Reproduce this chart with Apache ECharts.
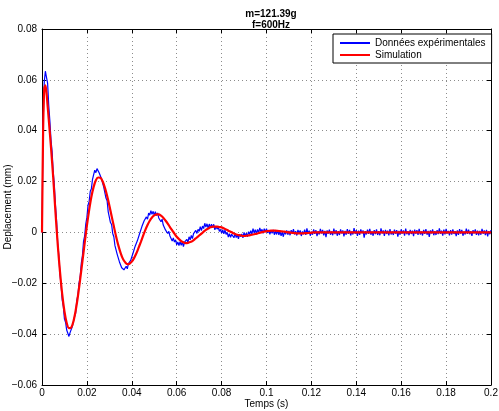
<!DOCTYPE html>
<html>
<head>
<meta charset="utf-8">
<script src="https://cdn.jsdelivr.net/npm/echarts@6/dist/echarts.min.js"></script>
<style>
  html, body { margin: 0; padding: 0; background: #fff; }
  #chart { width: 499px; height: 411px; }
</style>
</head>
<body>
<div id="chart"></div>
<script>
// measured displacement (mm), one sample every expStep seconds
const expStep = 0.0005
const expDisp = [
  0, 0.0426, 0.0592, 0.0634, 0.0610, 0.0587, 0.0500, 0.0439, 0.0364, 0.0318,
  0.0238, 0.0185, 0.0106, 0.0046, -0.0043, -0.0090, -0.0164, -0.0207, -0.0265, -0.0291,
  -0.0341, -0.0353, -0.0384, -0.0384, -0.0409, -0.0394, -0.0399, -0.0370, -0.0364, -0.0331,
  -0.0317, -0.0268, -0.0246, -0.0199, -0.0175, -0.0122, -0.0092, -0.0035, -0.0014, 0.0033,
  0.0059, 0.0107, 0.0122, 0.0162, 0.0172, 0.0209, 0.0216, 0.0245, 0.0235, 0.0251,
  0.0257, 0.0234, 0.0239, 0.0211, 0.0208, 0.0178, 0.0173, 0.0135, 0.0125, 0.0081,
  0.0075, 0.0039, 0.0031, -0.0004, -0.0017, -0.0052, -0.0055, -0.0086, -0.0091, -0.0116,
  -0.0115, -0.0139, -0.0132, -0.0147, -0.0153, -0.0133, -0.0143, -0.0123, -0.0130, -0.0110,
  -0.0110, -0.0083, -0.0081, -0.0054, -0.0056, -0.0032, -0.0033, -0.0004, 0.0000, 0.0023,
  0.0020, 0.0046, 0.0042, 0.0061, 0.0052, 0.0076, 0.0068, 0.0086, 0.0071, 0.0083,
  0.0068, 0.0082, 0.0066, 0.0077, 0.0057, 0.0061, 0.0042, 0.0052, 0.0029, 0.0034,
  0.0010, 0.0017, -0.0004, 0.0004, -0.0014, -0.0008, -0.0034, -0.0022, -0.0038, -0.0029,
  -0.0049, -0.0037, -0.0052, -0.0036, -0.0051, -0.0037, -0.0056, -0.0038, -0.0045, -0.0027,
  -0.0040, -0.0017, -0.0029, -0.0012, -0.0024, -0.0005, -0.0010, 0.0008, -0.0004, 0.0012,
  0.0004, 0.0023, 0.0007, 0.0025, 0.0015, 0.0036, 0.0021, 0.0034, 0.0017, 0.0033,
  0.0018, 0.0032, 0.0019, 0.0032, 0.0010, 0.0024, 0.0013, 0.0022, 0.0004, 0.0012,
  -0.0003, 0.0011, -0.0006, 0.0009, -0.0008, 0.0000, -0.0018, -0.0005, -0.0019, -0.0007,
  -0.0005, -0.0021, -0.0003, -0.0020, -0.0009, -0.0025, -0.0007, -0.0017, -0.0006, -0.0021,
  0.0000, -0.0015, -0.0003, -0.0017, 0.0003, -0.0007, 0.0007, -0.0007, 0.0015, -0.0002,
  0.0011, -0.0005, 0.0012, -0.0001, 0.0018, 0.0003, 0.0012, -0.0004, 0.0015, 0.0001,
  0.0015, -0.0002, 0.0009, -0.0008, 0.0008, -0.0003, 0.0010, -0.0009, 0.0005, -0.0008,
  0.0008, -0.0010, 0.0004, -0.0013, 0.0001, -0.0017, 0.0004, -0.0007, 0.0008, -0.0009,
  0.0006, -0.0011, 0.0009, -0.0004, 0.0013, -0.0008, 0.0005, -0.0012, 0.0010, -0.0003,
  0.0008, -0.0014, 0.0004, -0.0007, 0.0011, -0.0010, 0.0016, -0.0005, 0.0007, -0.0013,
  0.0003, -0.0009, 0.0012, -0.0006, 0.0009, -0.0015, 0.0005, -0.0008, 0.0014, -0.0004,
  0.0010, -0.0012, 0.0006, -0.0019, 0.0008, -0.0005, 0.0011, -0.0009, 0.0004, -0.0011,
  0.0015, -0.0007, 0.0009, -0.0013, 0.0005, -0.0010, 0.0012, -0.0004, 0.0008, -0.0016,
  0.0006, -0.0009, 0.0013, -0.0006, 0.0010, -0.0012, 0.0004, -0.0008, 0.0017, -0.0005,
  0.0009, -0.0014, 0.0007, -0.0010, 0.0012, -0.0003, 0.0008, -0.0021, 0.0005, -0.0008,
  0.0011, -0.0006, 0.0014, -0.0009, 0.0004, -0.0013, 0.0009, -0.0007, 0.0012, -0.0010,
  0.0005, -0.0011, 0.0016, -0.0004, 0.0008, -0.0014, 0.0010, -0.0006, 0.0007, -0.0012,
  0.0013, -0.0008, 0.0004, -0.0010, 0.0011, -0.0005, 0.0009, -0.0017, 0.0006, -0.0009,
  0.0012, -0.0004, 0.0008, -0.0013, 0.0015, -0.0007, 0.0005, -0.0011, 0.0010, -0.0006,
  0.0007, -0.0015, 0.0011, -0.0005, 0.0009, -0.0010, 0.0014, -0.0008, 0.0004, -0.0012,
  0.0010, -0.0006, 0.0013, -0.0009, 0.0006, -0.0018, 0.0008, -0.0004, 0.0012, -0.0011,
  0.0005, -0.0010, 0.0009, -0.0007, 0.0016, -0.0005, 0.0007, -0.0013, 0.0011, -0.0008,
  0.0014, -0.0004, 0.0006, -0.0012, 0.0009, -0.0009, 0.0012, -0.0006, 0.0005, -0.0015,
  0.0008, -0.0010, 0.0013, -0.0005, 0.0010, -0.0013, 0.0004, -0.0008, 0.0015, -0.0006,
  0.0011, -0.0007, 0.0005, -0.0014, 0.0009, -0.0004, 0.0012, -0.0010, 0.0007, -0.0012,
  0.0006, -0.0009, 0.0014, -0.0005, 0.0008, -0.0011, 0.0010, -0.0016, 0.0005, -0.0007,
  0.0009
]

// simulated displacement (mm)
const simTime = [
  0, 0.0005, 0.001, 0.0015, 0.002, 0.0025, 0.003,
  0.004, 0.005, 0.006, 0.007, 0.008, 0.009, 0.010, 0.011, 0.012, 0.013,
  0.014, 0.015, 0.016, 0.017, 0.018, 0.019, 0.020, 0.021, 0.022, 0.023,
  0.024, 0.025, 0.026, 0.027, 0.028, 0.029, 0.030, 0.031, 0.032, 0.033,
  0.034, 0.035, 0.036, 0.037, 0.038, 0.039, 0.040, 0.041, 0.042, 0.043,
  0.044, 0.045, 0.046, 0.047, 0.048, 0.049, 0.050, 0.051, 0.052, 0.053,
  0.054, 0.055, 0.056, 0.057, 0.058, 0.059, 0.060, 0.061, 0.062, 0.063,
  0.064, 0.065, 0.066, 0.067, 0.068, 0.069, 0.070, 0.071, 0.072, 0.073,
  0.074, 0.075, 0.076, 0.077, 0.078, 0.079, 0.080, 0.081, 0.082, 0.083,
  0.084, 0.085, 0.086, 0.087, 0.088, 0.089, 0.090, 0.091, 0.092, 0.093,
  0.094, 0.095, 0.096, 0.097, 0.098, 0.099, 0.100, 0.101, 0.102, 0.103,
  0.104, 0.105, 0.106, 0.107, 0.108, 0.109, 0.110, 0.111, 0.112, 0.113,
  0.114, 0.115, 0.116, 0.117, 0.118, 0.119, 0.120, 0.121, 0.122, 0.123,
  0.14, 0.2
]
const simDisp = [
  0, 0.0400, 0.0565, 0.0578, 0.0550, 0.0498, 0.0445,
  0.0335, 0.0215, 0.0080, -0.0047, -0.0153, -0.0243, -0.0311, -0.0356, -0.0376, -0.0374,
  -0.0350, -0.0307, -0.0251, -0.0185, -0.0114, -0.0042, 0.0027, 0.0088, 0.0140, 0.0179,
  0.0205, 0.0216, 0.0215, 0.0201, 0.0176, 0.0144, 0.0106, 0.0065, 0.0024, -0.0016,
  -0.0051, -0.0080, -0.0103, -0.0117, -0.0125, -0.0123, -0.0115, -0.0101, -0.0083, -0.0061,
  -0.0038, -0.0014, 0.0009, 0.0029, 0.0046, 0.0059, 0.0067, 0.0071, 0.0071, 0.0066,
  0.0058, 0.0047, 0.0035, 0.0021, 0.0008, -0.0005, -0.0017, -0.0026, -0.0034, -0.0039,
  -0.0042, -0.0041, -0.0038, -0.0034, -0.0027, -0.0020, -0.0012, -0.0005, 0.0003, 0.0010,
  0.0015, 0.0020, 0.0023, 0.0023, 0.0023, 0.0021, 0.0020, 0.0016, 0.0012, 0.0007,
  0.0003, -0.0002, -0.0006, -0.0009, -0.0011, -0.0013, -0.0014, -0.0013, -0.0012, -0.0010,
  -0.0008, -0.0006, -0.0004, -0.0001, 0.0001, 0.0003, 0.0005, 0.0006, 0.0007, 0.0007,
  0.0007, 0.0006, 0.0005, 0.0004, 0.0003, 0.0001, 0.0000, -0.0001, -0.0002, -0.0003,
  -0.0004, -0.0004, -0.0004, -0.0003, -0.0003, -0.0002, -0.0001, 0.0000, 0.0000, 0.0000,
  0, 0
]

const xTicks = { min: 0, max: 0.2, step: 0.02 }
const yTicks = { min: -0.06, max: 0.08, step: 0.02 }

const font = 'Liberation Sans, Arial, Helvetica, sans-serif'

const expData = expDisp.map((v, i) => [i * expStep, v])
const simData = simTime.map((t, i) => [t, simDisp[i]])

function fmt(v) {
  if (Math.abs(v) < 1e-9) return '0'
  const s = String(+Math.abs(v).toFixed(2))
  return v < 0 ? '\u2212' + s : s
}

const chart = echarts.init(document.getElementById('chart'), null, { renderer: 'canvas' })

const boxAxis = {
  axisLine: { show: true, onZero: false, lineStyle: { color: '#000', width: 1 } },
  axisTick: { show: true, inside: true, length: 4, lineStyle: { color: '#000' } },
  axisLabel: { show: false },
  splitLine: { show: false }
}

chart.setOption({
  animation: false,
  backgroundColor: '#fff',
  title: {
    text: 'm=121.39g\nf=600Hz',
    left: 266,
    textAlign: 'center',
    top: 4,
    textStyle: { fontFamily: font, fontSize: 10, fontWeight: 'bold', color: '#000', lineHeight: 11 }
  },
  legend: {
    left: 333,
    top: 34,
    orient: 'vertical',
    padding: [4, 6, 3, 6],
    itemGap: 2,
    itemWidth: 30,
    itemHeight: 10,
    itemStyle: { opacity: 0 },
    backgroundColor: '#fff',
    borderColor: '#000',
    borderWidth: 1,
    borderRadius: 0,
    textStyle: { fontFamily: font, fontSize: 10, color: '#000' },
    data: ['Données expérimentales', 'Simulation']
  },
  grid: { left: 42, right: 8, top: 29, bottom: 26, containLabel: false, outerBoundsMode: 'none' },
  xAxis: [
    {
      type: 'value',
      min: xTicks.min, max: xTicks.max, interval: xTicks.step,
      name: 'Temps (s)',
      nameLocation: 'middle',
      nameGap: 14,
      nameMoveOverlap: false,
      nameTextStyle: { fontFamily: font, fontSize: 10, color: '#000' },
      axisLine: { show: true, onZero: false, lineStyle: { color: '#000', width: 1 } },
      axisTick: { show: true, inside: true, length: 4, lineStyle: { color: '#000' } },
      axisLabel: { fontFamily: font, fontSize: 10, color: '#000', margin: 3, formatter: fmt },
      splitLine: { show: true, lineStyle: { color: '#8c8c8c', type: [1, 3], width: 1 } }
    },
    Object.assign({
      type: 'value', position: 'top',
      min: xTicks.min, max: xTicks.max, interval: xTicks.step
    }, boxAxis)
  ],
  yAxis: [
    {
      type: 'value',
      min: yTicks.min, max: yTicks.max, interval: yTicks.step,
      name: 'Deplacement (mm)',
      nameLocation: 'middle',
      nameGap: 29,
      nameMoveOverlap: false,
      nameTextStyle: { fontFamily: font, fontSize: 10, color: '#000' },
      axisLine: { show: true, onZero: false, lineStyle: { color: '#000', width: 1 } },
      axisTick: { show: true, inside: true, length: 4, lineStyle: { color: '#000' } },
      axisLabel: { fontFamily: font, fontSize: 10, color: '#000', margin: 5, formatter: fmt },
      splitLine: { show: true, lineStyle: { color: '#8c8c8c', type: [1, 3], width: 1 } }
    },
    Object.assign({
      type: 'value', position: 'right',
      min: yTicks.min, max: yTicks.max, interval: yTicks.step
    }, boxAxis)
  ],
  series: [
    {
      name: 'Données expérimentales',
      type: 'line',
      data: expData,
      symbol: 'none',
      sampling: false,
      color: '#0000ff',
      lineStyle: { color: '#0000ff', width: 1.2 }
    },
    {
      name: 'Simulation',
      type: 'line',
      data: simData,
      symbol: 'none',
      smooth: 0.3,
      color: '#ff0000',
      lineStyle: { color: '#ff0000', width: 2.2 }
    }
  ]
})
</script>
</body>
</html>
